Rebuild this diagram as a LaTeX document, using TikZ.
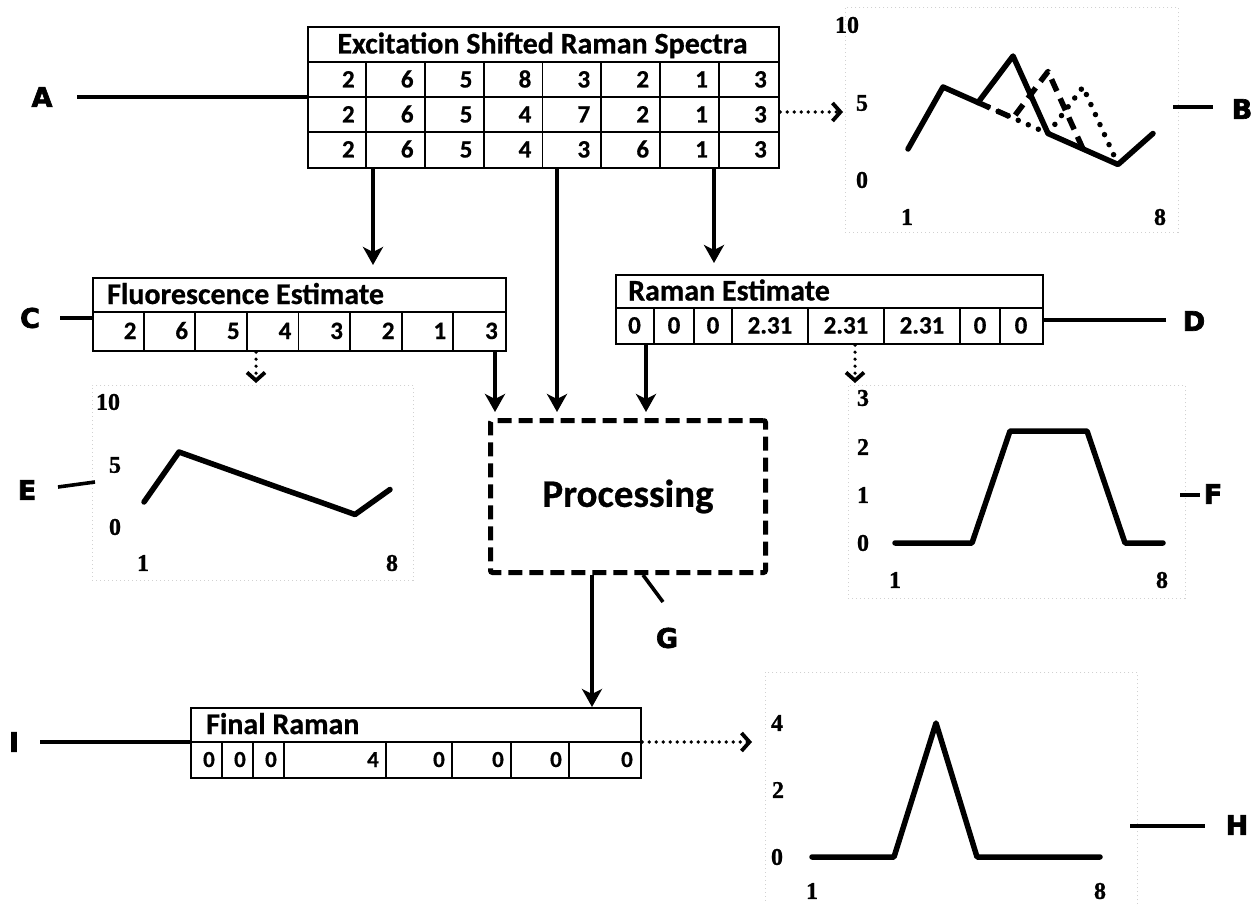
\documentclass[tikz,border=0pt]{standalone}
\usepackage{fontspec}
\setmainfont{Carlito}[BoldFeatures={FakeBold=0.6}]
\newfontfamily\labfont{DejaVu Sans}[BoldFeatures={FakeBold=2.5}]
\newfontfamily\numfont{Liberation Serif}[BoldFeatures={FakeBold=1}]
\usetikzlibrary{arrows.meta,calc}
\begin{document}
\begin{tikzpicture}[x=1pt,y=-1pt,
  tbl/.style={draw,line width=2.2pt,inner sep=0pt,fill=white},
  gridl/.style={line width=1.8pt},
  hdr/.style={font=\fontsize{30}{30}\selectfont\bfseries,inner sep=0pt},
  val/.style={font=\fontsize{25}{25}\selectfont\bfseries,inner sep=0pt},
  conn/.style={line width=4pt,-{Stealth[length=18pt,width=20pt,inset=5pt]}},
  dotarr/.style={line width=3.6pt,dash pattern=on 0pt off 7pt,line cap=round,
     -{Straight Barb[length=8pt,width=18pt,line width=3.8pt]}},
  lline/.style={line width=3.6pt},
  lab/.style={font=\labfont\fontsize{27}{27}\selectfont\bfseries,inner sep=1pt},
  num/.style={font=\numfont\fontsize{24}{24}\selectfont\bfseries,inner sep=0pt},
  cframe/.style={draw=black!18,line width=0.8pt,dash pattern=on 1pt off 3pt,inner sep=0pt},
  curve/.style={line width=5.5pt,line join=round,line cap=round},
  procbox/.style={draw,line width=5pt,dash pattern=on 14pt off 7pt,rounded corners=2pt,
     font=\fontsize{39}{39}\selectfont\bfseries}
]
\useasboundingbox[fill=white] (0,0) rectangle (1256,904);

% ---------- chart frames ----------
\node[cframe,minimum width=333pt,minimum height=225pt,anchor=north west] (Bc) at (845,7) {};
\node[cframe,minimum width=321pt,minimum height=195pt,anchor=north west] (Ec) at (92,385) {};
\node[cframe,minimum width=337pt,minimum height=213pt,anchor=north west] (Fc) at (848,385) {};
\node[cframe,minimum width=372pt,minimum height=240pt,anchor=north west] (Hc) at (765,672) {};

% ---------- top table ----------
\node[tbl,minimum width=471pt,minimum height=141pt,anchor=north west] (T) at (307,26) {};
\foreach \yy in {62,97,132} \draw[gridl] (307,\yy) -- (778,\yy);
\foreach \i in {1,...,7} \draw[gridl] ({307+58.875*\i},62) -- ({307+58.875*\i},167);
\node[hdr,anchor=base] (Th) at (542.5,53.5) {Excitation Shifted Raman Spectra};
\foreach \v [count=\i] in {2,6,5,8,3,2,1,3}
  \node[val,anchor=base east] at ({307+58.875*\i-11},87.5) {\v};
\foreach \v [count=\i] in {2,6,5,4,7,2,1,3}
  \node[val,anchor=base east] at ({307+58.875*\i-11},122.5) {\v};
\foreach \v [count=\i] in {2,6,5,4,3,6,1,3}
  \node[val,anchor=base east] at ({307+58.875*\i-11},157.5) {\v};

% ---------- fluorescence estimate ----------
\node[tbl,minimum width=413pt,minimum height=73pt,anchor=north west] (Cb) at (92,277) {};
\draw[gridl] (92,312) -- (505,312);
\foreach \i in {1,...,7} \draw[gridl] ({92+51.625*\i},312) -- ({92+51.625*\i},350);
\node[hdr,anchor=base west] (Ch) at (107,304) {Fluorescence Estimate};
\foreach \v [count=\i] in {2,6,5,4,3,2,1,3}
  \node[val,anchor=base east] at ({92+51.625*\i-7},339) {\v};

% ---------- raman estimate ----------
\node[tbl,minimum width=427pt,minimum height=69pt,anchor=north west] (Db) at (615,274) {};
\draw[gridl] (615,308) -- (1042,308);
\foreach \xx in {654,694,732,808,884,960,1000} \draw[gridl] (\xx,308) -- (\xx,343);
\node[hdr,anchor=base west] (Dh) at (628,300.5) {Raman Estimate};
\foreach \a/\b/\v in {615/654/0,654/694/0,694/732/0,732/808/2.31,808/884/2.31,884/960/2.31,960/1000/0,1000/1042/0}
  \node[val,anchor=base] at ({(\a+\b)/2},333.5) {\v};

% ---------- final raman ----------
\node[tbl,minimum width=450pt,minimum height=70pt,anchor=north west] (Fr) at (190,707) {};
\draw[gridl] (190,742) -- (640,742);
\foreach \xx in {222,253,284,386,452,511,569} \draw[gridl] (\xx,742) -- (\xx,777);
\node[hdr,anchor=base west] (Frh) at (206,734) {Final Raman};
\foreach \b/\v in {222/0,253/0,284/0,386/4,452/0,511/0,569/0,640/0}
  \node[val,font=\fontsize{23}{23}\selectfont\bfseries,anchor=base east] at ({\b-7},767) {\v};

% ---------- processing ----------
\node[procbox,minimum width=275pt,minimum height=152pt,anchor=north west] (P) at (488,418) {Processing};

% ---------- chart B ----------
\node[num] at (847,25) {10};
\node[num] at (862,103) {5};
\node[num] at (862,180) {0};
\node[num] at (907,217) {1};
\node[num] at (1160,217) {8};
\draw[curve,dash pattern=on 13pt off 8pt,line cap=butt] (978,102.5) -- (1013,118) -- (1048,71.5) -- (1083,149);
\draw[curve,dash pattern=on 0pt off 11pt] (978,102.5) -- (1013,118) -- (1048,133.5) -- (1083,87) -- (1118,164.5);
\draw[curve] (908,149) -- (943,87) -- (978,102.5) -- (1013,56) -- (1048,133.5) -- (1083,149) -- (1118,164.5) -- (1153,133.5);

% ---------- chart E ----------
\node[num] at (108,402) {10};
\node[num] at (115,465) {5};
\node[num] at (115,527) {0};
\node[num] at (143,563) {1};
\node[num] at (392,563) {8};
\draw[curve] (144,502) -- (179,452) -- (214,464.5) -- (249,477) -- (284,489.5) -- (320,502) -- (355,514.5) -- (390,489.5);

% ---------- chart F ----------
\node[num] at (863,398) {3};
\node[num] at (863,447) {2};
\node[num] at (863,495) {1};
\node[num] at (863,543) {0};
\node[num] at (895,580) {1};
\node[num] at (1162,580) {8};
\draw[curve] (895,543) -- (933,543) -- (972,543) -- (1010,431) -- (1048,431) -- (1087,431) -- (1125,543) -- (1163,543);

% ---------- chart H ----------
\node[num] at (777,723) {4};
\node[num] at (778,790) {2};
\node[num] at (777,857) {0};
\node[num] at (812,891) {1};
\node[num] at (1100,891) {8};
\draw[curve] (812,857) -- (853,857) -- (894,857) -- (936,723) -- (977,857) -- (1018,857) -- (1059,857) -- (1100,857);

% ---------- labels ----------
\node[lab] (LA) at (42,97) {A};
\node[lab] (LB) at (1242,109) {B};
\node[lab] (LC) at (30,318) {C};
\node[lab] (LD) at (1194,321) {D};
\node[lab] (LE) at (27,490) {E};
\node[lab] (LF) at (1213,494) {F};
\node[lab] (LG) at (667,638) {G};
\node[lab] (LH) at (1237,825) {H};
\node[lab] (LI) at (14,742) {I};

\coordinate (a0) at (77,97);
\draw[lline] (a0) -- (a0 -| T.west);
\coordinate (b0) at (1173,107);
\draw[lline] (b0) -- ++(40,0);
\coordinate (c0) at (60,318);
\draw[lline] (c0) -- (c0 -| Cb.west);
\coordinate (d0) at (1166,320);
\draw[lline] (d0) -- (d0 -| Db.east);
\coordinate (e0) at (58,487);
\draw[lline] (e0) -- (95,482);
\coordinate (f0) at (1180,495);
\draw[lline] (f0) -- ++(20,0);
\coordinate (h0) at (1130,826);
\draw[lline] (h0) -- ++(75,0);
\coordinate (i0) at (40,742);
\draw[lline] (i0) -- (i0 -| Fr.west);
\coordinate (g0) at (663,602);
\draw[lline] (g0) -- (643,0 |- P.south);

% ---------- connectors ----------
\draw[conn,shorten >=12pt] (373,0 |- T.south) -- (373,0 |- Cb.north);
\draw[conn,shorten >=6pt] (557,0 |- T.south) -- (557,0 |- P.north);
\draw[conn,shorten >=11pt] (714,0 |- T.south) -- (714,0 |- Db.north);
\draw[conn,shorten >=6pt] (495,0 |- Cb.south) -- (495,0 |- P.north);
\draw[conn,shorten >=6pt] (646,0 |- Db.south) -- (646,0 |- P.north);
\draw[conn] (592,0 |- P.south) -- (592,0 |- Fr.north);

\draw[dotarr] (T.east |- 0,112) -- (843,112);
\draw[dotarr] (256,0 |- Cb.south) -- (256,383);
\draw[dotarr] (855,0 |- Db.south) -- (855,383);
\draw[dotarr] (Fr.east |- 0,742) -- (752,742);
\end{tikzpicture}
\end{document}
